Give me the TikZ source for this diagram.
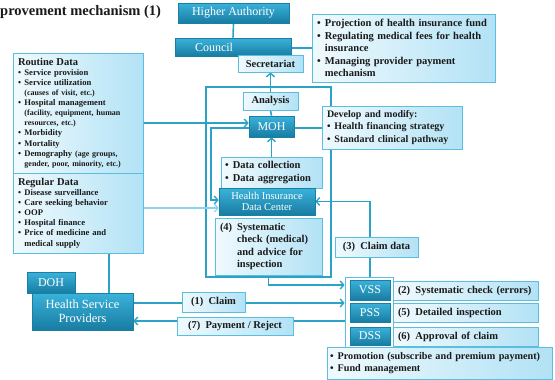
\documentclass[tikz,border=0pt]{standalone}
\usepackage{fontspec}
\setmainfont{Liberation Serif}
\usetikzlibrary{arrows.meta,shadows,calc}

\definecolor{lineblue}{HTML}{2BA3C9}
\definecolor{paleline}{HTML}{8DD3EC}
\definecolor{lborder}{HTML}{5BBEDF}
\definecolor{lfillA}{HTML}{F0FAFE}
\definecolor{lfillB}{HTML}{B2E2F5}
\definecolor{dtop}{HTML}{3AB2DA}
\definecolor{dmid}{HTML}{289CC4}
\definecolor{dbot}{HTML}{187CA2}
\definecolor{dedge}{HTML}{1A7FA5}
\definecolor{inktext}{HTML}{1A1A1A}

\pgfdeclarelayer{bg}
\pgfsetlayers{bg,main}

\newcommand\bl{\makebox[0.75em][l]{\textbullet}}
\newcommand\hang{\hspace*{0.75em}}

\begin{document}
\begin{tikzpicture}[x=1pt,y=-1pt,
  dbox/.style={draw=dedge, line width=0.6pt, top color=dtop, middle color=dmid, bottom color=dbot,
    text=white, font=\fontsize{12}{13}\selectfont, inner sep=1pt, align=center,
    drop shadow={shadow xshift=1.2pt, shadow yshift=-1.2pt, opacity=0.35}},
  lbox/.style={draw=lborder, line width=0.8pt, left color=lfillA, right color=lfillB,
    text=inktext, font=\bfseries\fontsize{10.5}{12.5}\selectfont, inner sep=2pt},
  tag/.style={lbox, align=left, inner xsep=5pt},
  conn/.style={draw=lineblue, line width=1.6pt},
  arr/.style={conn, -{Straight Barb[length=3.5pt,width=8pt,line width=1.4pt]}},
  palearr/.style={draw=paleline, line width=1.4pt, -{Straight Barb[length=3.5pt,width=8pt,line width=1.2pt]}}
]
\useasboundingbox (0,0) rectangle (555,380);

% title
\node[anchor=west, inner sep=0pt, font=\bfseries\fontsize{14.5}{15}\selectfont, text=inktext] (title) at (0,12) {provement mechanism (1)};

% governance chain
\node[dbox, minimum width=111pt, minimum height=20pt] (ha) at (233.5,13) {Higher Authority};
\node[dbox, minimum width=116pt, minimum height=18pt, text width=110pt, align=left] (council) at (233,47) {\hspace*{17pt}Council};
\node[lbox, minimum width=65pt, minimum height=17pt] (secr) at (270.5,63.5) {Secretariat};
\node[tag, minimum width=183pt, minimum height=68pt, text width=173pt] (proj) at (403.5,48)
  {\bl Projection of health insurance fund\\
   \bl Regulating medical fees for health\\
   \hang insurance\\
   \bl Managing provider payment\\
   \hang mechanism};

% MOH area
\node[lbox, minimum width=55pt, minimum height=18pt] (analysis) at (270.5,101) {Analysis};
\node[dbox, minimum width=45pt, minimum height=21pt] (moh) at (271.5,126.5) {MOH};
\node[tag, minimum width=140pt, minimum height=43pt, text width=130pt, font=\bfseries\fontsize{10}{12.5}\selectfont] (dev) at (392,127.5)
  {Develop and modify:\\
   \bl Health financing strategy\\
   \bl Standard clinical pathway};
\node[tag, minimum width=101pt, minimum height=31pt, text width=93pt, inner xsep=4pt] (collect) at (271.5,172.5)
  {\bl Data collection\\
   \bl Data aggregation};
\node[dbox, minimum width=96pt, minimum height=27pt, font=\fontsize{10.5}{11.5}\selectfont] (hidc) at (267,201.5) {Health Insurance\\Data Center};
\node[tag, minimum width=107pt, minimum height=57pt, text width=97pt] (check) at (268.5,246.5)
  {\makebox[17pt][l]{(4)}Systematic\\
   \hspace*{17pt}check (medical)\\
   \hspace*{17pt}and advice for\\
   \hspace*{17pt}inspection};

% data sources
\node[tag, minimum width=130pt, minimum height=120pt, text width=120pt, font=\bfseries\fontsize{8.6}{10.1}\selectfont] (routine) at (78,113)
  {{\fontsize{10.5}{10.1}\selectfont Routine Data}\\
   \bl Service provision\\
   \bl Service utilization\\
   \hang{\fontsize{8}{10.1}\selectfont (causes of visit, etc.)}\\
   \bl Hospital management\\
   \hang{\fontsize{8}{10.1}\selectfont (facility, equipment, human}\\
   \hang{\fontsize{8}{10.1}\selectfont resources, etc.)}\\
   \bl Morbidity\\
   \bl Mortality\\
   \bl Demography {\fontsize{8}{10.1}\selectfont (age groups,}\\
   \hang{\fontsize{8}{10.1}\selectfont gender, poor, minority, etc.)}};
\node[tag, minimum width=130pt, minimum height=80pt, text width=120pt, font=\bfseries\fontsize{8.6}{10.1}\selectfont] (regular) at (78,213)
  {{\fontsize{10.5}{10.1}\selectfont Regular Data}\\
   \bl Disease surveillance\\
   \bl Care seeking behavior\\
   \bl OOP\\
   \bl Hospital finance\\
   \bl Price of medicine and\\
   \hang medical supply};

% providers
\node[dbox, minimum width=48pt, minimum height=21pt] (doh) at (51,282.5) {DOH};
\node[dbox, minimum width=101pt, minimum height=37pt, font=\fontsize{12.5}{14}\selectfont] (hsp) at (82.5,311.5) {Health Service\\Providers};

% claim processing
\node[draw=lborder, line width=0.8pt, fill=white, minimum width=48pt, minimum height=73pt] (grp) at (369,313.5) {};
\node[dbox, minimum width=40pt, minimum height=20pt] (vss) at (370,290) {VSS};
\node[dbox, minimum width=40pt, minimum height=19pt] (pss) at (370,312.5) {PSS};
\node[dbox, minimum width=40pt, minimum height=18pt] (dss) at (370,336) {DSS};
\node[tag, minimum width=145pt, minimum height=19pt, text width=135pt] (s2) at (465.5,290.5) {(2)\enspace Systematic check (errors)};
\node[tag, minimum width=145pt, minimum height=19pt, text width=135pt] (s5) at (465.5,312.5) {(5)\enspace Detailed inspection};
\node[tag, minimum width=145pt, minimum height=19pt, text width=135pt] (s6) at (465.5,336.5) {(6)\enspace Approval of claim};
\node[tag, minimum width=225pt, minimum height=32pt, text width=219pt, inner xsep=3pt, font=\bfseries\fontsize{10.2}{12}\selectfont] (promo) at (439.5,363)
  {\bl \mbox{Promotion (subscribe and premium payment)}\\
   \bl Fund management};

% flow labels
\node[lbox, minimum width=83pt, minimum height=20pt] (claimdata) at (376.5,247) {(3)\enspace Claim data};
\node[lbox, minimum width=63pt, minimum height=20pt] (claim) at (213.5,302) {(1)\enspace Claim};
\node[lbox, minimum width=116pt, minimum height=18pt] (pay) at (235,326) {(7)\enspace Payment / Reject};

% frame and connectors behind the boxes
\begin{pgfonlayer}{bg}
  \node[draw=lineblue, line width=1.5pt, minimum width=125pt, minimum height=190pt] (mohframe) at (268.5,182) {};
  \draw[conn] (ha.south) -- (council.north);
  \draw[conn] ([yshift=-1pt]council.east) -- ([yshift=-1pt]council.east -| proj.west);
  \draw[arr] (analysis.north) -- (secr.south);
  \draw[conn] (moh.north) -- (analysis.south);
  \draw[arr] (collect.north) -- (moh.south);
  \draw[conn] ([yshift=-1.5pt]moh.east) -- ([yshift=-1.5pt]moh.east -| dev.west);
  \draw[arr] ([yshift=3.5pt]moh.west -| routine.east) -- ([yshift=3.5pt]moh.west);
  \draw[arr] ([yshift=-1.5pt]moh.west) -- ++(-38,0) |- ([yshift=1.5pt]hidc.west);
  \draw[palearr] ([yshift=-6.5pt]hidc.west -| regular.east) -- ([yshift=-6.5pt]hidc.west);
  \draw[conn] ([xshift=31pt]regular.south) -- ([xshift=31pt]regular.south |- hsp.north);
  \draw[arr] (vss.north) |- (hidc.east);
  \draw[arr] (check.south) |- ([yshift=28.5pt]grp.west);
  \draw[arr] ([yshift=8.5pt]hsp.east) -- ([yshift=8.5pt]hsp.east -| grp.west);
  \draw[arr] ([yshift=-9.5pt]hsp.east -| grp.west) -- ([yshift=-9.5pt]hsp.east);
\end{pgfonlayer}
\end{tikzpicture}
\end{document}
